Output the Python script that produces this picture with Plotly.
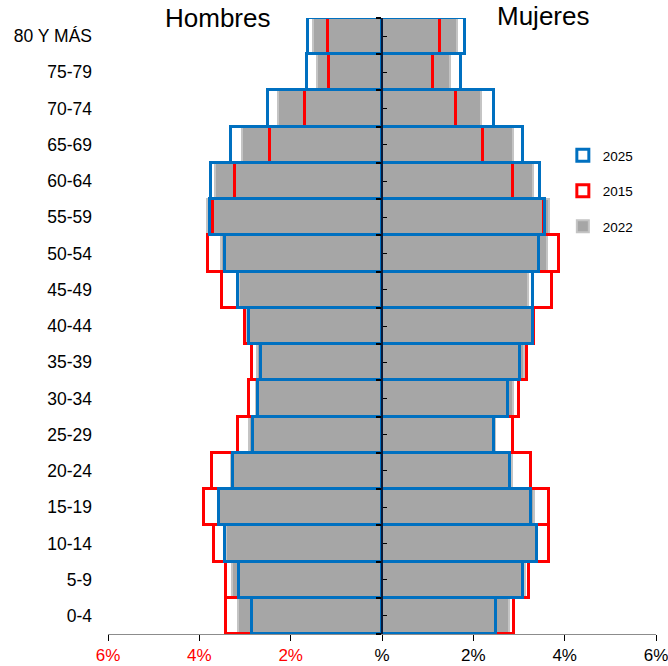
import plotly.graph_objects as go

age_groups = ["0-4", "5-9", "10-14", "15-19", "20-24", "25-29", "30-34", "35-39",
              "40-44", "45-49", "50-54", "55-59", "60-64", "65-69", "70-74", "75-79", "80 Y MÁS"]

# percentages of total population (men shown to the left)
men_2022 = [3.16, 3.29, 3.42, 3.56, 3.31, 2.91, 2.76, 2.74, 2.95, 3.13, 3.53, 3.84, 3.66, 3.07, 2.27, 1.43, 1.52]
women_2022 = [2.79, 3.14, 3.38, 3.33, 2.85, 2.48, 2.86, 3.11, 3.28, 3.19, 3.62, 3.66, 3.30, 2.86, 2.17, 1.49, 1.65]

men_2015 = [3.42, 3.42, 3.67, 3.90, 3.72, 3.16, 2.91, 2.84, 3.00, 3.50, 3.80, 3.71, 3.22, 2.45, 1.69, 1.15, 1.18]
women_2015 = [2.90, 3.21, 3.66, 3.66, 3.27, 2.87, 2.99, 3.18, 3.33, 3.72, 3.88, 3.55, 2.86, 2.21, 1.63, 1.12, 1.27]

men_2025 = [2.84, 3.13, 3.44, 3.58, 3.27, 2.83, 2.72, 2.65, 2.91, 3.15, 3.44, 3.77, 3.74, 3.30, 2.49, 1.65, 1.63]
women_2025 = [2.49, 3.08, 3.40, 3.26, 2.80, 2.45, 2.75, 3.02, 3.31, 3.30, 3.44, 3.58, 3.46, 3.09, 2.46, 1.72, 1.82]

x_tick_vals = [-6, -4, -2, 0, 2, 4, 6]
x_tick_text = ['<span style="color:#ff0000">6%</span>', '<span style="color:#ff0000">4%</span>',
               '<span style="color:#ff0000">2%</span>', '%', '2%', '4%', '6%']

# (name, men, women, fill, outline, outline width, legend rank)
series = [
    ("2022", men_2022, women_2022, "#a6a6a6", "#c4c4c4", 2, 3),
    ("2015", men_2015, women_2015, "rgba(0,0,0,0)", "#ff0000", 3, 2),
    ("2025", men_2025, women_2025, "rgba(0,0,0,0)", "#0070c0", 3, 1),
]

fig = go.Figure()
for name, men, women, fill, line, lw, rank in series:
    fig.add_trace(go.Bar(
        y=age_groups, x=[-v for v in men], orientation="h", name=name,
        legendgroup=name, showlegend=True, legendrank=rank,
        marker=dict(color=fill, line=dict(color=line, width=lw)),
    ))
    fig.add_trace(go.Bar(
        y=age_groups, x=women, orientation="h", name=name,
        legendgroup=name, showlegend=False, legendrank=rank,
        marker=dict(color=fill, line=dict(color=line, width=lw)),
    ))

n = len(age_groups)
fig.update_layout(
    width=668, height=666,
    margin=dict(l=108, r=12, t=18, b=32, autoexpand=False),
    barmode="overlay", bargap=0,
    plot_bgcolor="white", paper_bgcolor="white",
    font=dict(family="Liberation Sans, Arial, sans-serif", color="black"),
    xaxis=dict(
        range=[-6, 6], tickvals=x_tick_vals, ticktext=x_tick_text,
        ticks="outside", ticklen=6, tickcolor="black", tickfont=dict(size=17),
        showline=True, linecolor="#8c8c8c", linewidth=1, showgrid=False,
        zeroline=False, fixedrange=True, ticklabelstandoff=0, automargin=False,
        ticklabeloverflow="allow",
    ),
    yaxis=dict(
        categoryorder="array", categoryarray=age_groups, range=[-0.5, n - 0.5],
        showgrid=False, showline=False, ticks="", tickfont=dict(size=17.5),
        ticklabelstandoff=15, automargin=False,
    ),
    yaxis2=dict(
        overlaying="y", anchor="free", position=0.5, range=[-0.5, n - 0.5],
        showline=True, linecolor="#0a1a3a", linewidth=2, showgrid=False, zeroline=False,
        showticklabels=False, tick0=-0.5, dtick=1, ticks="outside", ticklen=5,
        tickcolor="black", tickwidth=2,
        minor=dict(tick0=0, dtick=1, ticks="inside", ticklen=4, tickcolor="black", tickwidth=1),
    ),
    legend=dict(
        x=0.83, y=0.802, xanchor="left", yanchor="top",
        traceorder="grouped", tracegroupgap=15,
        font=dict(size=13.5), bgcolor="rgba(0,0,0,0)", itemwidth=30,
    ),
    annotations=[
        dict(text="Hombres", xref="paper", yref="paper", x=0.2007, y=1.0,
             xanchor="center", yanchor="middle", showarrow=False, font=dict(size=26)),
        dict(text="Mujeres", xref="paper", yref="paper", x=0.794, y=1.003,
             xanchor="center", yanchor="middle", showarrow=False, font=dict(size=26)),
    ],
)
fig.add_trace(go.Scatter(x=[None], y=[None], yaxis="y2", showlegend=False, hoverinfo="skip"))

fig.write_html("out.html", config={"displayModeBar": False},
               post_script="document.body.style.margin='0';document.body.style.overflow='hidden';")
